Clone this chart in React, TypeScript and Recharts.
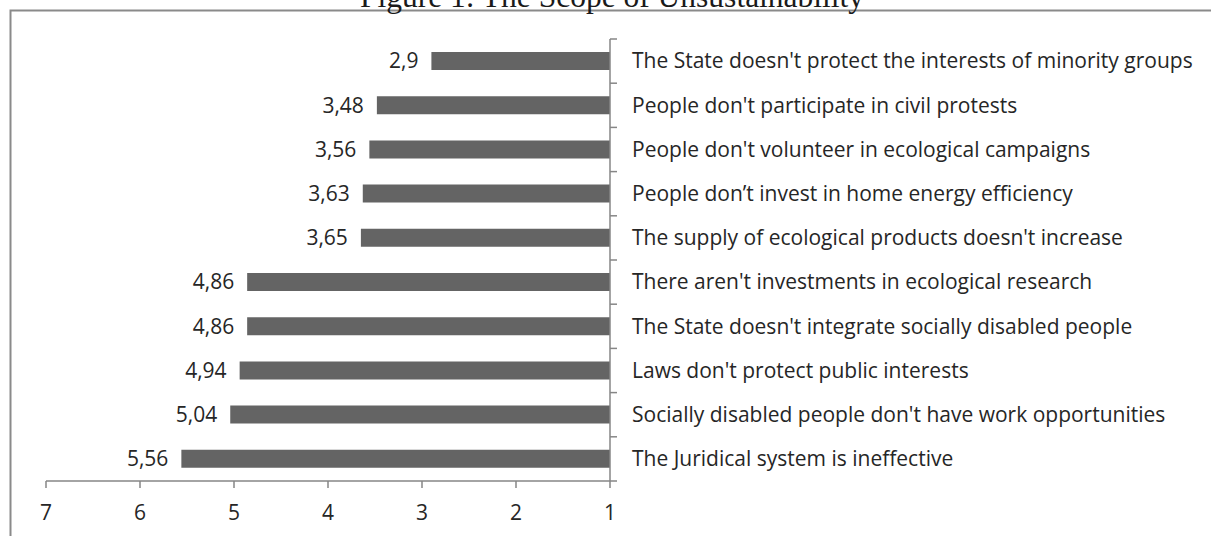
import React from 'react';
import { BarChart, Bar, XAxis, YAxis, LabelList } from 'recharts';

const categories = [
  "The State doesn't protect the interests of minority groups",
  "People don't participate in civil protests",
  "People don't volunteer in ecological campaigns",
  "People don\u2019t invest in home energy efficiency",
  "The supply of ecological products doesn't increase",
  "There aren't investments in ecological research",
  "The State doesn't integrate socially disabled people",
  "Laws don't protect public interests",
  "Socially disabled people don't have work opportunities",
  "The Juridical system is ineffective",
];
const values = [2.9, 3.48, 3.56, 3.63, 3.65, 4.86, 4.86, 4.94, 5.04, 5.56];
const xTicks = [1, 2, 3, 4, 5, 6, 7];
const title = 'Figure 1: The Scope of Unsustainability';

const data = categories.map((name, i) => ({ name, value: values[i] }));

const W = 1211;
const H = 536;
const FONT = '"Open Sans", Lato, sans-serif';
const FS = 21;
const TEXT = '#262626';
const AXIS = '#868686';
const BAR = '#646464';
const PLOT_TOP = 39;
const PLOT_BOTTOM = 481;
const PLOT_LEFT = 46;
const PLOT_RIGHT = 610;
const X_AXIS_H = 40;
const Y_AXIS_W = 560;
const TICK = 7;
const band = (PLOT_BOTTOM - PLOT_TOP) / categories.length;

const CategoryTick = (props: any) => {
  const { x, y, payload, index } = props;
  const axisX = x - TICK - 15;
  return (
    <g>
      <line x1={axisX} x2={axisX + TICK} y1={y - band / 2} y2={y - band / 2} stroke={AXIS} strokeWidth={1.5} />
      {index === categories.length - 1 && (
        <line x1={axisX} x2={axisX + TICK} y1={y + band / 2} y2={y + band / 2} stroke={AXIS} strokeWidth={1.5} />
      )}
      <text x={x} y={y} dy="0.35em" textAnchor="start" fill={TEXT} fontFamily={FONT} fontSize={FS}>
        {payload.value}
      </text>
    </g>
  );
};

const ValueLabel = (props: any) => {
  const { x, y, width, height, value } = props;
  const left = Math.min(x, x + width);
  return (
    <text x={left - 13} y={y + height / 2} dy="0.35em" textAnchor="end" fill={TEXT} fontFamily={FONT} fontSize={FS}>
      {String(value).replace('.', ',')}
    </text>
  );
};

export default function App() {
  return (
    <div style={{ position: 'absolute', left: 0, top: 0, width: W, height: H, background: '#fff', overflow: 'hidden' }}>
      <BarChart
        width={W}
        height={H}
        data={data}
        layout="vertical"
        margin={{ top: PLOT_TOP, bottom: H - PLOT_BOTTOM - X_AXIS_H, left: PLOT_LEFT, right: W - PLOT_RIGHT - Y_AXIS_W }}
        barCategoryGap={0}
      >
        <XAxis
          type="number"
          domain={[1, 7]}
          ticks={xTicks}
          reversed
          height={X_AXIS_H}
          axisLine={{ stroke: AXIS, strokeWidth: 1.5 }}
          tickLine={{ stroke: AXIS, strokeWidth: 1.5 }}
          tickSize={TICK}
          tickMargin={17}
          tick={{ fill: TEXT, fontFamily: FONT, fontSize: FS }}
          allowDataOverflow
        />
        <YAxis
          type="category"
          dataKey="name"
          orientation="right"
          width={Y_AXIS_W}
          axisLine={{ stroke: AXIS, strokeWidth: 1.5 }}
          tickLine={false}
          tickSize={TICK}
          tickMargin={15}
          tick={<CategoryTick />}
          interval={0}
        />
        <Bar dataKey="value" fill={BAR} barSize={18} isAnimationActive={false}>
          <LabelList dataKey="value" content={<ValueLabel />} />
        </Bar>
      </BarChart>
      <svg width={W} height={H} style={{ position: 'absolute', left: 0, top: 0, pointerEvents: 'none' }}>
        <path d={`M 10.5 ${H} L 10.5 10.5 L ${W} 10.5`} fill="none" stroke="#8a8a8a" strokeWidth={2} />
        <text x={612} y={7} textAnchor="middle" fontFamily='"Liberation Serif", "Times New Roman", serif' fontSize={31.5} fill="#1a1a1a">
          {title}
        </text>
      </svg>
    </div>
  );
}
